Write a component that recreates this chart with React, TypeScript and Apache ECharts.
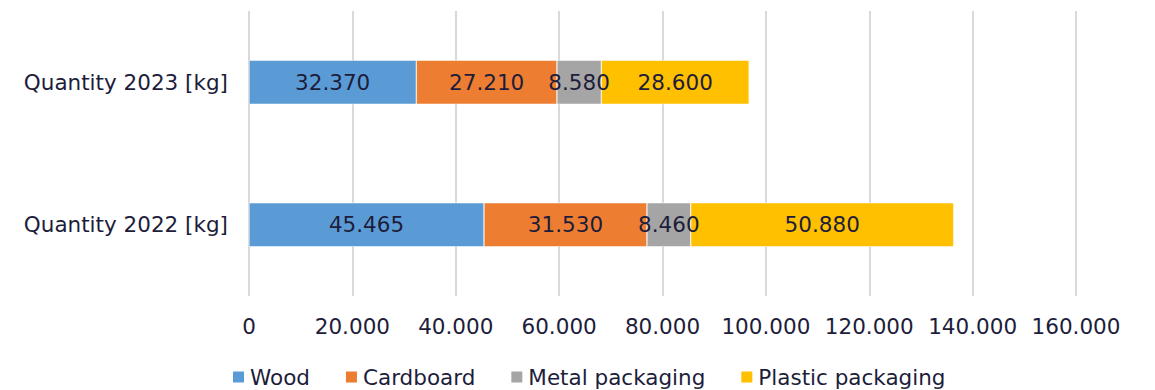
import React, { useEffect, useRef } from "react";
import * as echarts from "echarts";

const categories = ["Quantity 2022 [kg]", "Quantity 2023 [kg]"];
const seriesNames = ["Wood", "Cardboard", "Metal packaging", "Plastic packaging"];
const wood = [45465, 32370];
const cardboard = [31530, 27210];
const metal = [8460, 8580];
const plastic = [50880, 28600];
const colors = ["#5B9BD5", "#ED7D31", "#A5A5A5", "#FFC000"];
const xTicks = { min: 0, max: 160000, interval: 20000 };

const textColor = "#1d1d3b";
const font = "'DejaVu Sans', 'Noto Sans', sans-serif";
const fs = 21.5;

const fmt = (v: number) => String(Math.round(v)).replace(/\B(?=(\d{3})+(?!\d))/g, ".");

export default function App() {
  const ref = useRef<HTMLDivElement>(null);
  useEffect(() => {
    if (!ref.current) return;
    const chart = echarts.init(ref.current, null, { renderer: "svg" });
    const values = [wood, cardboard, metal, plastic];
    chart.setOption({
      animation: false,
      textStyle: { fontFamily: font },
      grid: { left: 249, right: 79, top: 11, bottom: 94, containLabel: false },
      legend: {
        bottom: -3,
        left: 226,
        itemWidth: 13,
        itemHeight: 13,
        itemGap: 34,
        icon: "rect",
        textStyle: { fontSize: fs, color: textColor, fontFamily: font },
        data: seriesNames,
      },
      xAxis: {
        type: "value",
        min: xTicks.min,
        max: xTicks.max,
        interval: xTicks.interval,
        axisLine: { show: false },
        axisTick: { show: false },
        splitLine: { show: true, lineStyle: { color: "#d9d9d9", width: 2 } },
        axisLabel: { fontSize: fs, color: textColor, margin: 19, formatter: (v: number) => fmt(v) },
      },
      yAxis: {
        type: "category",
        data: categories,
        axisLine: { show: false },
        axisTick: { show: false },
        axisLabel: { fontSize: fs, color: textColor, margin: 21 },
      },
      series: seriesNames.map((name, i) => ({
        name,
        type: "bar",
        stack: "total",
        barWidth: 44,
        data: values[i],
        itemStyle: { color: colors[i], borderColor: "#ffffff", borderWidth: 0.5 },
        label: {
          show: true,
          position: "inside",
          fontSize: fs,
          color: textColor,
          fontFamily: font,
          formatter: (p: any) => fmt(p.value),
        },
      })),
    });
    return () => chart.dispose();
  }, []);
  return <div ref={ref} style={{ position: "fixed", left: 0, top: 0, width: 1155, height: 390, background: "#fff" }} />;
}
